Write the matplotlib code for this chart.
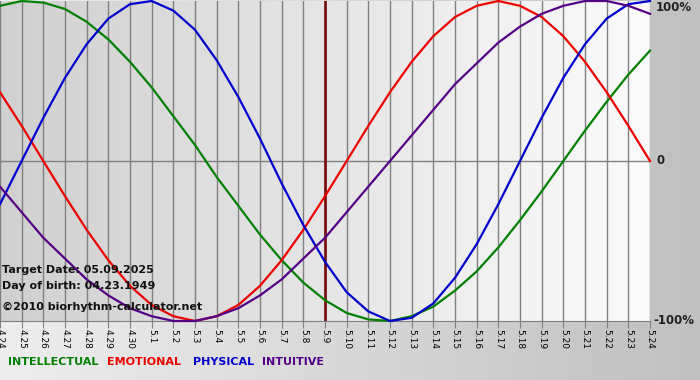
import numpy as np
import matplotlib
matplotlib.use("Agg")
import matplotlib.pyplot as plt
from matplotlib.colors import LinearSegmentedColormap

# days shown on the chart (4.24 .. 5.24), target date 5.9
days = ["4.24", "4.25", "4.26", "4.27", "4.28", "4.29", "4.30",
        "5.1", "5.2", "5.3", "5.4", "5.5", "5.6", "5.7", "5.8", "5.9",
        "5.10", "5.11", "5.12", "5.13", "5.14", "5.15", "5.16", "5.17",
        "5.18", "5.19", "5.20", "5.21", "5.22", "5.23", "5.24"]
target = "5.9"

# values in percent, one per day
intellectual = [97, 100, 99, 95, 87, 76, 62, 46, 28, 10, -10, -28, -46, -62, -76, -87,
                -95, -99, -100, -97, -91, -81, -69, -54, -37, -19, 0, 19, 37, 54, 69]
emotional = [43, 22, 0, -22, -43, -62, -78, -90, -97, -100, -97, -90, -78, -62, -43, -22,
             0, 22, 43, 62, 78, 90, 97, 100, 97, 90, 78, 62, 43, 22, 0]
physical = [-27, 0, 27, 52, 73, 89, 98, 100, 94, 82, 63, 40, 14, -14, -40, -63,
            -82, -94, -100, -98, -89, -73, -52, -27, 0, 27, 52, 73, 89, 98, 100]
intuitive = [-16, -32, -48, -61, -74, -84, -92, -97, -100, -100, -97, -92, -84, -74, -61, -48,
             -32, -16, 0, 16, 32, 48, 61, 74, 84, 92, 97, 100, 100, 97, 92]

W, H = 700, 380
fig = plt.figure(figsize=(7, 3.8), dpi=100)

# outer background
bg = fig.add_axes([0, 0, 1, 1])
bg.axis("off")
cm_out = LinearSegmentedColormap.from_list("out", ["#eeeeee", "#c0c0c0"])
bg.imshow(np.linspace(0, 1, 256).reshape(1, -1), cmap=cm_out, aspect="auto",
          extent=[0, 1, 0, 1])
bg.set_xlim(0, 1)
bg.set_ylim(0, 1)

ax = fig.add_axes([0, 1 - 321 / H, 650 / W, 320 / H])
x = np.arange(len(days))
ax.set_xlim(0, len(days) - 1)
ax.set_ylim(-100, 100)
cm_in = LinearSegmentedColormap.from_list("in", ["#d0d0d0", "#fbfbfb"])
ax.imshow(np.linspace(0, 1, 256).reshape(1, -1), cmap=cm_in, aspect="auto",
          extent=[0, len(days) - 1, -100, 100], zorder=0)

for xi in x:
    ax.axvline(xi, color="#808080", lw=1, zorder=1)
ax.axhline(0, color="#808080", lw=1, zorder=1)
ax.axvline(days.index(target), color="#7a1414", lw=2, zorder=2)

ax.plot(x, intellectual, color="#008000", lw=1.6, zorder=3, clip_on=False)
ax.plot(x, emotional, color="#ee0000", lw=1.6, zorder=3, clip_on=False)
ax.plot(x, physical, color="#0000cc", lw=1.6, zorder=3, clip_on=False)
ax.plot(x, intuitive, color="#550088", lw=1.6, zorder=3, clip_on=False)

for s in ["top", "left", "right"]:
    ax.spines[s].set_visible(False)
ax.spines["bottom"].set_color("#808080")
ax.set_yticks([])
ax.set_xticks(x)
ax.set_xticklabels(days, rotation=270, fontsize=6.5, va="top", ha="center")
ax.tick_params(axis="x", direction="out", length=5, color="#808080", pad=1)

tr = ax.get_yaxis_transform()
ax.text(1.008, 100, "100%", transform=tr, fontsize=8.5, fontweight="bold",
        va="top", ha="left", color="#222222")
ax.text(1.01, 0, "0", transform=tr, fontsize=8.5, fontweight="bold",
        va="center", ha="left", color="#222222")
ax.text(1.005, -100, "-100%", transform=tr, fontsize=8.5, fontweight="bold",
        va="center", ha="left", color="#222222", clip_on=False)

# info text
info = [("Target Date: 05.09.2025", 270), ("Day of birth: 04.23.1949", 286),
        ("\u00a92010 biorhythm-calculator.net", 307)]
for t, yy in info:
    fig.text(2 / W, 1 - yy / H, t, fontsize=8, fontweight="bold", va="center",
             ha="left", color="#111111", zorder=10)

# legend
legend = [("INTELLECTUAL", "#008000", 8), ("EMOTIONAL", "#ee0000", 107),
          ("PHYSICAL", "#0000cc", 193), ("INTUITIVE", "#550088", 262)]
for t, c, xx in legend:
    fig.text(xx / W, 1 - 362 / H, t, fontsize=8, fontweight="bold", color=c,
             va="center", ha="left")

fig.savefig("out.png", dpi=100)
